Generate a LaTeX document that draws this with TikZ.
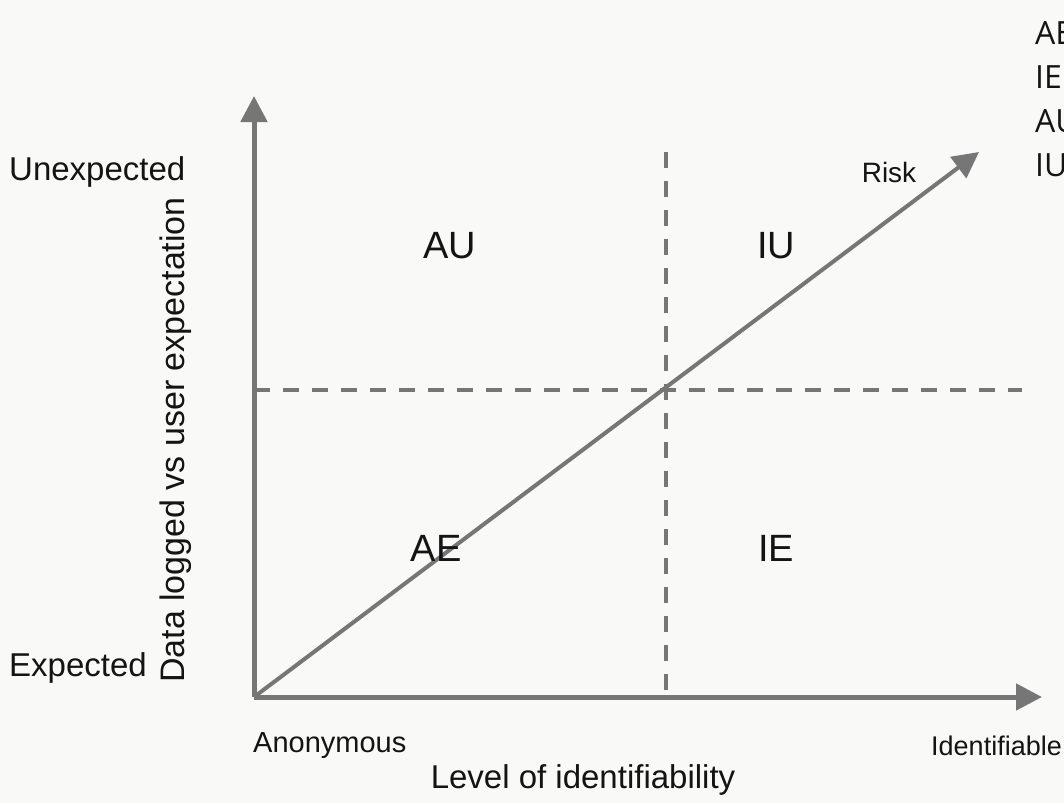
\documentclass[tikz,border=0pt]{standalone}
\usepackage{fontspec}
\setmainfont{Liberation Sans}
\newfontfamily\cornerfont{Open Sans}
\usetikzlibrary{arrows.meta}
\definecolor{bgc}{RGB}{249,249,248}
\definecolor{axc}{RGB}{118,118,118}
\definecolor{txc}{RGB}{20,20,20}
\begin{document}
\begin{tikzpicture}[x=1pt,y=-1pt,
  axis/.style={draw=axc,line width=5pt,-{Triangle[length=26pt,width=26pt]}},
  diag/.style={draw=axc,line width=4pt,-{Triangle[length=26pt,width=26pt]}},
  divider/.style={draw=axc,line width=4pt,dash pattern=on 16pt off 13pt},
  lbl/.style={text=txc,inner sep=0pt},
  quad/.style={text=txc,font=\fontsize{38}{40}\selectfont,inner sep=0pt},
  corner/.style={text=txc,font=\cornerfont\fontsize{32}{40}\selectfont,inner sep=0pt,anchor=base west}]
\fill[bgc] (0,0) rectangle (1064,803);
\useasboundingbox (0,0) rectangle (1064,803);
\clip (0,0) rectangle (1064,803);
\coordinate (O) at (254,697);
\coordinate (Ytip) at (254,96);
\coordinate (Xtip) at (1042,697);
\coordinate (Rtip) at (979,152);
\coordinate (Vtop) at (666,152);
\coordinate (Vbot) at (666,697);
\coordinate (Hl) at (254,390);
\coordinate (Hr) at (1022,390);
\draw[divider] (Vtop) -- (Vbot);
\draw[divider] (Hl) -- (Hr);
\draw[axis] (O) -- (Ytip);
\draw[axis] (O) -- (Xtip);
\draw[diag] (O) -- (Rtip);
\node[lbl,font=\fontsize{33}{38}\selectfont,anchor=west] (unexp) at (9,172) {Unexpected};
\node[lbl,font=\fontsize{33}{38}\selectfont,anchor=west] (exp) at (9,668) {Expected};
\node[lbl,font=\fontsize{29}{34}\selectfont,anchor=west] (anon) at (253,746) {Anonymous};
\node[lbl,font=\fontsize{27}{32}\selectfont,anchor=east] (ident) at (1062,746) {Identifiable};
\node[lbl,font=\fontsize{28}{32}\selectfont] (risk) at (889,172) {Risk};
\node[quad] (au) at (450,246) {AU};
\node[quad] (iu) at (776,246) {IU};
\node[quad] (ae) at (436,548) {AE};
\node[quad] (ie) at (776,548) {IE};
\node[lbl,font=\fontsize{33}{38}\selectfont] (xt) at (583,780) {Level of identifiability};
\node[lbl,font=\fontsize{34}{40}\selectfont,rotate=90] (yt) at (176,440) {Data logged vs user expectation};
\node[corner] (c1) at (1035,44) {AE};
\node[corner] (c2) at (1035,88) {IE};
\node[corner] (c3) at (1035,132) {AU};
\node[corner] (c4) at (1035,176) {IU};
\end{tikzpicture}
\end{document}
